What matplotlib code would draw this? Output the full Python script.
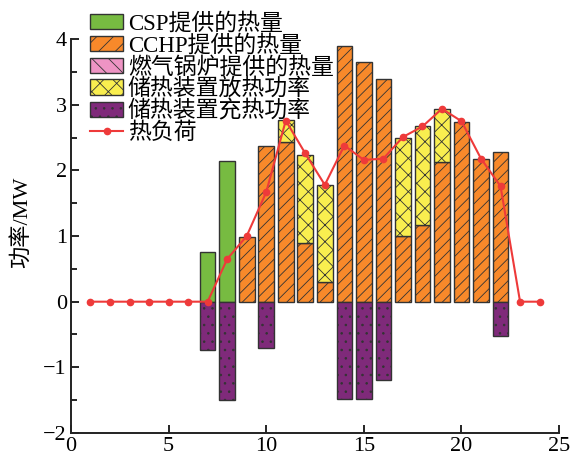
import numpy as np
import matplotlib
matplotlib.use("Agg")
import matplotlib.pyplot as plt
from matplotlib.patches import Patch
from matplotlib.lines import Line2D

plt.rcParams['font.family'] = ['Liberation Serif', 'Noto Sans CJK SC']
plt.rcParams['font.size'] = 16
plt.rcParams['axes.unicode_minus'] = True
plt.rcParams['hatch.linewidth'] = 0.6

hours = np.arange(1, 25)

# CSP output (MW), hours 7-8 only
csp_hours = [7, 8]
csp_heat = [0.75, 2.14]

# CCHP output (MW)
cchp_hours = [9, 10, 11, 12, 13, 14, 15, 16, 17, 18, 19, 20, 21, 22]
cchp_heat = [0.99, 2.38, 2.44, 0.90, 0.30, 3.89, 3.66, 3.40, 1.00, 1.17, 2.13, 2.74, 2.17, 2.28]

# gas boiler output (MW) - not used in this case
boiler_heat = [0.0] * 24

# storage discharge (stacked on CCHP)
dis_hours = [11, 12, 13, 17, 18, 19]
dis_base = [2.44, 0.90, 0.30, 1.00, 1.17, 2.13]
dis_heat = [0.33, 1.34, 1.48, 1.50, 1.50, 0.80]

# storage charging (negative)
chg_hours = [7, 8, 10, 14, 15, 16, 22]
chg_heat = [-0.73, -1.50, -0.70, -1.49, -1.49, -1.20, -0.52]

# heat load
heat_load = [0, 0, 0, 0, 0, 0, 0, 0.65, 1.00, 1.67, 2.76, 2.26,
             1.78, 2.38, 2.16, 2.18, 2.51, 2.67, 2.94, 2.75, 2.18, 1.76, 0, 0]

c_csp = '#77bb41'
c_cchp = '#f8892a'
c_boiler = '#ee94c4'
c_dis = '#f9ee4f'
c_chg = '#7f2a7a'
c_load = '#ee3a3a'
edge = '#333333'

fig = plt.figure(figsize=(5.77, 4.67), dpi=100)
ax = fig.add_axes([0.123, 0.073, 0.846, 0.843])

w = 0.8
ax.bar(csp_hours, csp_heat, width=w, color=c_csp, edgecolor=edge, linewidth=1.0)
ax.bar(cchp_hours, cchp_heat, width=w, color=c_cchp, edgecolor=edge, linewidth=1.0, hatch='///')
ax.bar(dis_hours, dis_heat, bottom=dis_base, width=w, color=c_dis, edgecolor=edge,
       linewidth=1.0, hatch='xx')
ax.bar(chg_hours, chg_heat, width=w, color=c_chg, edgecolor=edge, linewidth=1.0, hatch='..')
boiler = [b for b in boiler_heat if b > 0]
if boiler:
    ax.bar(hours[np.array(boiler_heat) > 0], boiler, width=w, color=c_boiler,
           edgecolor=edge, linewidth=1.0, hatch='\\\\\\')
ax.plot(hours, heat_load, color=c_load, lw=1.5, marker='o', ms=4.5, zorder=5)

ax.set_xlim(0, 25)
ax.set_ylim(-2, 4)
ax.set_xticks([0, 5, 10, 15, 20, 25])
ax.set_yticks([-2, -1, 0, 1, 2, 3, 4])
ax.set_yticks(np.arange(-1.5, 4, 1.0), minor=True)
ax.tick_params(direction='in', length=6, width=1.2, pad=3)
ax.tick_params(which='minor', direction='in', length=4, width=1.2)
for s in ['top', 'right']:
    ax.spines[s].set_visible(False)
for s in ['left', 'bottom']:
    ax.spines[s].set_linewidth(1.4)
    ax.spines[s].set_color('#222222')
ax.set_ylabel('功率/MW')
ax.yaxis.set_label_coords(-0.08, 0.535)

handles = [
    Patch(facecolor=c_csp, edgecolor=edge, linewidth=1.0),
    Patch(facecolor=c_cchp, edgecolor=edge, linewidth=1.0, hatch='//'),
    Patch(facecolor=c_boiler, edgecolor=edge, linewidth=1.0, hatch='\\\\'),
    Patch(facecolor=c_dis, edgecolor=edge, linewidth=1.0, hatch='xx'),
    Patch(facecolor=c_chg, edgecolor=edge, linewidth=1.0, hatch='..'),
    Line2D([], [], color=c_load, lw=1.5, marker='o', ms=4.5),
]
labels = ['CSP提供的热量', 'CCHP提供的热量', '燃气锅炉提供的热量',
          '储热装置放热功率', '储热装置充热功率', '热负荷']
fig.legend(handles, labels, loc='upper left', bbox_to_anchor=(0.148, 0.982),
           frameon=False, borderpad=0.2, borderaxespad=0, handlelength=1.45,
           handleheight=0.64, handletextpad=0.2, labelspacing=0.0,
           fontsize=16.5)

fig.savefig('out.png', dpi=100)
